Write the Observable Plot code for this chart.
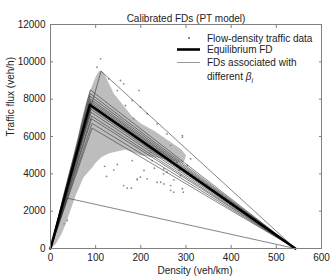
<!DOCTYPE html>
<html><head><meta charset="utf-8">
<script src="https://cdn.jsdelivr.net/npm/d3@7"></script>
<script src="https://cdn.jsdelivr.net/npm/@observablehq/plot@0.6"></script>
<style>body{margin:0;background:#fff}</style></head>
<body><div id="chart"></div>
<script>
// Axis ticks
const xTicks = [0, 100, 200, 300, 400, 500, 600];
const yTicks = [0, 2000, 4000, 6000, 8000, 10000, 12000];

// Jam density shared by all FDs (veh/km)
const jamDensity = 542;

// Equilibrium FD: critical density / capacity
const eqCritK = 87;
const eqCritQ = 7700;

// FDs associated with different beta_i: critical densities and capacities
const fdCritK = [112, 88, 88, 88, 89, 89, 89, 90, 90, 90, 90, 91, 91, 92, 92, 37];
const fdCritQ = [9500, 8500, 8300, 8150, 8000, 7900, 7800, 7650, 7550, 7450, 7300, 7100, 6950, 6700, 6450, 2700];

// Dense part of the flow-density cloud (outline, density / flow)
const cloudK = [0, 5, 15, 25, 30, 40, 51, 60, 66, 73, 80, 90, 100, 106, 110, 118, 128, 140, 160, 180, 200, 230, 260, 290, 300, 295, 270, 240, 200, 166, 130, 113, 100, 91, 80, 73, 62, 55, 45, 35, 25, 12];
const cloudQ = [0, 500, 1500, 2600, 3100, 4000, 4900, 5800, 6600, 7300, 7950, 8600, 9200, 9450, 9550, 9400, 8900, 8300, 7700, 7100, 6700, 6300, 5800, 5300, 5000, 4600, 4700, 4850, 5000, 5300, 5100, 4900, 4600, 4300, 4000, 3800, 3200, 2800, 2100, 1400, 800, 250];

// Scattered observations outside the dense cloud
const ptK = [111, 103, 129, 155, 162, 196, 148, 181, 199, 166, 214, 236, 292, 258, 184, 292, 310, 280, 251, 236, 266, 199, 192, 221, 266, 273, 170, 179, 162, 244, 251, 292, 294, 266, 124, 192, 214, 273, 207, 258, 181, 148, 225, 288, 303, 30, 37, 120, 140, 230, 250, 285];
const ptQ = [10160, 9710, 9090, 9000, 8820, 8460, 8460, 7930, 7570, 7660, 7220, 6680, 6050, 6140, 6950, 5960, 4800, 4620, 4270, 3550, 3370, 3820, 3730, 5160, 5520, 3020, 3230, 3230, 3370, 3550, 3460, 3200, 3020, 3110, 3860, 3680, 3730, 3680, 4180, 4090, 4710, 4500, 4710, 3910, 4450, 1320, 1500, 4400, 4200, 4300, 4000, 4200];

// Build tables
const cloud = cloudK.map((k, i) => ({k, q: cloudQ[i]}));
const pts = ptK.map((k, i) => ({k, q: ptQ[i]}));
const thin = [];
fdCritK.forEach((k, i) => {
  thin.push({id: i, k: 0, q: 0});
  thin.push({id: i, k, q: fdCritQ[i]});
  thin.push({id: i, k: jamDensity, q: 0});
});
const eq = [{k: 0, q: 0}, {k: eqCritK, q: eqCritQ}, {k: jamDensity, q: 0}];

const axisGray = "#808080";
const chart = Plot.plot({
  width: 332, height: 277,
  marginLeft: 50, marginRight: 11, marginTop: 24, marginBottom: 29,
  style: {fontFamily: "'Liberation Sans', Arial, sans-serif", fontSize: "10px", background: "#fff", color: "#222"},
  x: {domain: [0, 600]},
  y: {domain: [0, 12000]},
  marks: [
    Plot.line(cloud, {x: "k", y: "q", fill: "#bdbdbd", stroke: "none", curve: "linear-closed"}),
    Plot.dot(pts, {x: "k", y: "q", r: 0.9, fill: "#8a8a8a", stroke: "none"}),
    Plot.line(thin, {x: "k", y: "q", z: "id", stroke: "#333", strokeWidth: 0.6}),
    Plot.line(eq, {x: "k", y: "q", stroke: "#000", strokeWidth: 2.6}),
    Plot.frame({stroke: axisGray}),
    Plot.axisX(xTicks, {anchor: "bottom", tickSize: 3, dy: -3, tickFormat: () => "", label: null, stroke: axisGray}),
    Plot.axisX(xTicks, {anchor: "top", tickSize: 3, dy: 3, tickFormat: () => "", label: null, stroke: axisGray}),
    Plot.axisY(yTicks, {anchor: "left", tickSize: 3, dx: 3, tickFormat: () => "", label: null, stroke: axisGray}),
    Plot.axisY(yTicks, {anchor: "right", tickSize: 3, dx: -3, tickFormat: () => "", label: null, stroke: axisGray}),
    Plot.axisX(xTicks, {anchor: "bottom", tickSize: 0, tickPadding: 5, tickFormat: d => String(d), label: null}),
    Plot.axisY(yTicks, {anchor: "left", tickSize: 0, tickPadding: 5, tickFormat: d => String(d), label: null}),
    Plot.text(["Calibrated FDs (PT model)"], {frameAnchor: "top", dy: -10, fontSize: 10, fill: "#222"}),
    Plot.text(["Density (veh/km)"], {frameAnchor: "bottom", dy: 25, dx: 9, fontSize: 10, fill: "#222"}),
    Plot.text(["Traffic flux (veh/h)"], {frameAnchor: "left", dx: -40, rotate: -90, fontSize: 10, fill: "#222"})
  ]
});
document.getElementById("chart").appendChild(chart);

// Legend (inside plot, upper right)
const svg = d3.select(chart);
const lg = svg.append("g")
  .attr("font-family", "'Liberation Sans', Arial, sans-serif")
  .attr("font-size", 10).attr("fill", "#222").attr("text-anchor", "start");
lg.append("circle").attr("cx", 189).attr("cy", 38).attr("r", 0.9).attr("fill", "#555");
lg.append("line").attr("x1", 177).attr("x2", 200).attr("y1", 49.5).attr("y2", 49.5).attr("stroke", "#000").attr("stroke-width", 2.6);
lg.append("line").attr("x1", 177).attr("x2", 200).attr("y1", 62.5).attr("y2", 62.5).attr("stroke", "#999").attr("stroke-width", 1);
lg.append("text").attr("x", 207).attr("y", 38).attr("dy", "0.35em").text("Flow-density traffic data");
lg.append("text").attr("x", 207).attr("y", 49.5).attr("dy", "0.35em").text("Equilibrium FD");
lg.append("text").attr("x", 207).attr("y", 62.5).attr("dy", "0.35em").text("FDs associated with");
const t4 = lg.append("text").attr("x", 207).attr("y", 76).attr("dy", "0.35em");
t4.append("tspan").text("different ");
t4.append("tspan").attr("font-style", "italic").text("β");
t4.append("tspan").attr("font-size", 7).attr("dy", "3").attr("font-style", "italic").text("i");
</script>
</body></html>
